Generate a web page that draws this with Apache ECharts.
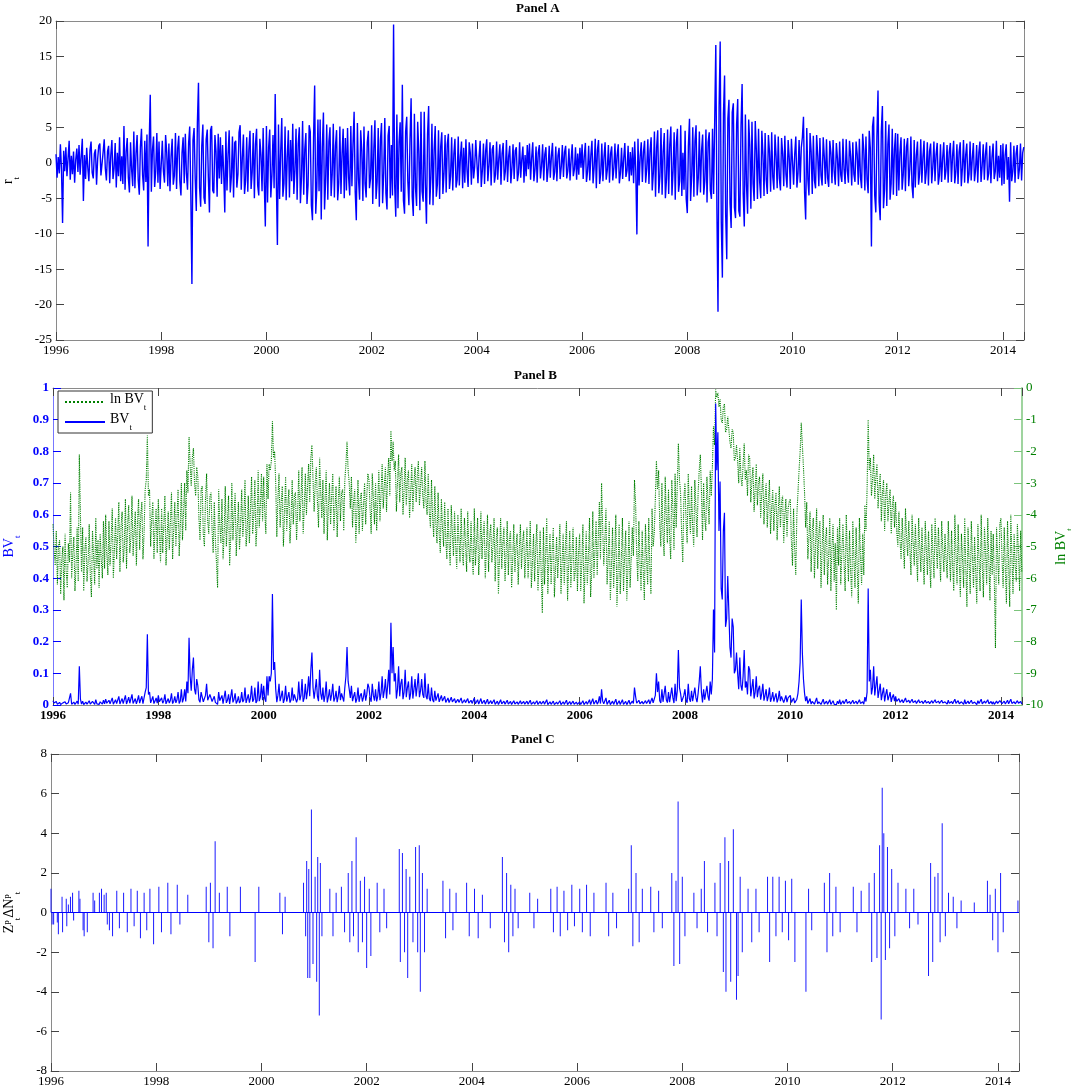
<!DOCTYPE html>
<html>
<head>
<meta charset="utf-8">
<script src="https://cdn.jsdelivr.net/npm/echarts@6/dist/echarts.min.js"></script>
<style>
  html, body { margin: 0; padding: 0; background: #fff; }
  #chart { width: 1071px; height: 1089px; }
</style>
</head>
<body>
<div id="chart"></div>
<script>
// sampled 48 times a year starting in Jan 1996
var T0 = 1996;
var STEP = 1 / 48;
var XMAX = 2014.4;
var yearTicks = [1996, 1998, 2000, 2002, 2004, 2006, 2008, 2010, 2012, 2014];

// Panel A : r_t
var ret = [
  1.2,-2.1,0.8,-1.5,2.6,-0.9,-8.5,1.7,-1.2,2.2,-1.9,0.6,3.1,-2.4,1.0,-1.6,1.6,-2.8,0.4,2.0,-1.3,2.5,-1.7,0.9, // 1996
  3.4,-5.4,1.1,-2.3,2.1,-0.7,-2.6,1.8,3.0,-1.4,-2.2,1.3,1.9,-3.1,0.5,2.4,2.7,-1.8,-2.0,1.5,3.3,-0.8,-2.5,1.6,
  2.4,-2.9,1.1,3.2,-2.3,-0.8,2.8,-3.5,1.4,-1.9,3.6,-2.6,0.9,-3.0,5.2,-3.8,1.6,3.5,-2.1,-4.2,2.9,-1.0,-3.3,4.4, // 1997
  -3.6,1.3,3.9,-2.4,-4.5,2.2,4.8,-1.7,-3.9,3.1,-2.7,4.0,-11.8,2.5,9.6,-4.1,1.8,3.7,-3.4,-1.2,4.2,-2.8,3.0,-3.7,
  -3.6,3.1,-1.2,-2.8,3.9,1.5,-3.3,2.7,-4.0,0.9,3.4,-3.1,-1.8,4.2,-3.7,2.0,3.8,-2.6,-4.6,1.4,3.6,-2.9,4.1,-1.5, // 1998
  -3.8,2.8,5.1,-4.4,-17.1,3.2,4.9,-2.2,-6.8,5.6,11.3,-3.5,-6.2,2.4,5.4,-4.9,-5.8,3.3,4.7,-2.0,-7.0,4.6,5.2,-3.9,
  -4.3,3.9,1.6,-4.8,4.1,-2.2,3.6,-3.0,2.5,-1.4,-7.0,4.4,-3.9,1.2,4.6,-4.2,-2.0,3.7,-4.9,2.8,3.1,-3.5,-1.6,4.3, // 1999
  5.3,-3.8,0.7,4.0,-4.4,-2.5,3.6,-4.1,1.9,4.5,-3.7,-1.3,4.2,-5.0,2.6,4.8,-3.2,-4.6,3.4,1.1,-4.0,4.9,-2.7,-9.0,
  5.2,-5.6,2.1,4.7,-4.9,-1.8,3.9,-3.6,9.7,-2.4,-11.6,5.4,-5.1,1.5,6.3,-4.8,-2.9,5.1,-5.3,0.8,4.6,-4.9,3.2,-2.6, // 2000
  5.5,-4.4,-1.1,4.8,-5.2,2.7,5.0,-5.7,-2.0,5.9,-4.5,1.9,4.2,-5.8,-3.1,5.3,4.4,-6.0,-8.1,3.6,10.9,-7.2,-3.4,6.1,
  -4.0,6.1,-8.0,2.2,7.1,-6.6,-2.5,5.4,-5.2,3.0,5.0,-4.7,-1.6,5.5,-4.9,2.4,4.6,-5.3,-2.8,5.1,-4.4,1.3,4.8,-5.0, // 2001
  3.5,-3.9,4.9,-2.1,-4.6,5.2,-3.3,2.7,7.2,-4.1,-8.1,5.6,-2.3,-5.2,4.6,1.7,-5.4,5.1,-3.0,-4.9,2.9,4.5,-3.6,-2.2,
  5.3,-5.8,2.0,6.0,-5.1,-2.7,4.9,-6.2,3.1,5.6,-5.7,-1.4,6.3,-4.3,-6.6,3.8,5.2,-5.0,2.5,-4.6,19.5,-3.2,-7.6,6.8, // 2002
  -6.4,2.9,5.7,-4.1,11.0,-5.3,-7.2,4.4,6.5,-2.6,-6.0,3.3,9.1,-4.8,-7.5,6.9,-3.5,-6.1,5.8,1.6,-6.7,7.2,-4.0,-5.5,
  7.2,-3.1,-8.6,4.0,8.0,-5.9,-2.2,5.5,-6.0,1.8,5.2,-4.8,-3.0,4.6,-5.1,2.3,4.3,-4.4,-1.5,3.9,-4.2,2.6,4.1,-3.7, // 2003
  -1.9,3.6,-3.9,1.2,3.4,-3.5,-2.4,3.7,-3.2,0.9,3.0,-3.6,2.1,-2.8,3.3,-1.0,-3.4,2.9,1.4,-3.1,2.7,-2.2,-0.6,3.2,
  3.2,-2.9,0.8,3.1,-3.4,-1.1,2.7,-3.0,1.6,3.3,-2.6,-0.4,2.9,-3.2,1.9,2.5,-2.8,-1.6,3.0,-2.4,0.6,2.6,-3.1,1.3, // 2004
  2.8,-2.5,-1.2,3.2,-2.7,0.9,2.4,-2.9,-0.7,2.6,-2.3,1.7,2.2,-2.6,-1.4,2.9,-2.1,0.5,2.3,-2.8,1.1,-1.9,2.5,-0.9,
  2.7,-2.4,0.7,2.9,-2.6,-1.0,2.3,-2.8,1.4,2.5,-2.2,-0.5,2.6,-2.5,1.2,2.2,-2.7,-0.8,2.4,-2.1,0.9,2.8,-2.4,-1.3, // 2005
  2.3,-2.6,1.0,2.1,-2.3,-0.6,2.5,-2.0,1.5,2.4,-2.2,-1.1,2.0,-2.5,0.4,2.6,-1.9,-0.9,2.2,-2.4,1.3,-1.7,2.1,-0.7,
  2.6,-2.3,0.9,2.8,-2.7,-1.2,2.4,-2.5,1.1,3.1,-2.9,-0.6,3.4,-3.6,1.8,3.2,-3.0,-1.5,2.7,-2.6,0.8,2.9,-2.4,-1.0, // 2006
  2.5,-2.8,1.3,2.3,-2.5,-0.7,2.7,-2.2,1.0,2.6,-2.9,-1.4,2.1,-2.3,0.6,2.8,-2.0,-1.1,2.4,-2.6,1.5,-1.8,2.2,-2.9,
  3.0,-1.2,-10.1,3.4,-3.2,0.9,2.9,-2.7,1.5,3.1,-2.8,-0.8,3.3,-3.0,1.7,3.6,-3.9,-1.4,4.4,-4.8,2.1,4.6,-4.3,-1.9, // 2007
  4.9,-4.5,1.6,4.2,-5.0,-2.3,4.7,-4.4,2.5,5.1,-4.6,-1.2,4.3,-5.2,2.8,4.8,-4.1,-2.6,5.3,-4.7,1.4,-3.8,4.5,-5.1,
  -7.1,2.4,6.2,-5.4,-1.8,5.0,-4.8,3.1,5.3,-4.6,-2.2,4.4,-4.2,1.7,4.0,-4.5,-2.5,4.7,-5.6,2.9,4.3,-3.9,-5.1,4.8, // 2008
  -4.4,6.0,16.6,-6.5,-21.0,7.8,17.1,-8.4,-16.2,6.9,12.3,-7.3,-13.6,6.2,8.9,-5.7,-9.2,7.1,8.4,-6.3,-7.8,5.4,9.0,-6.8,
  -7.6,5.2,11.1,-4.4,-9.0,6.8,-3.1,-7.2,6.1,2.5,-6.5,5.8,-2.9,-5.4,5.9,1.8,-5.1,4.8,-2.6,-5.0,4.5,1.2,-4.7,4.2, // 2009
  -2.4,-4.4,3.9,1.5,-4.1,4.3,-2.0,-3.8,4.0,0.9,-3.6,3.7,-2.2,-3.9,3.5,1.3,-3.3,3.8,-1.6,-3.5,3.2,0.7,-3.7,3.4,
  3.4,-3.1,1.2,3.7,-3.5,-1.5,3.2,-2.8,2.1,3.6,6.5,-4.2,-8.0,4.9,-2.3,-4.6,4.2,1.6,-4.4,3.8,-2.5,-3.6,3.9,1.0, // 2010
  -3.3,3.5,-1.8,-3.2,3.6,0.8,-3.0,3.3,-2.1,-3.4,3.1,1.4,-2.9,3.2,-1.2,-3.1,2.8,0.6,-3.3,3.0,-1.7,-2.7,3.4,-0.9,
  -3.0,3.3,-1.1,-2.8,3.1,0.9,-3.2,2.9,-1.6,-2.7,3.0,1.2,-3.1,3.4,-2.0,-3.6,4.1,1.8,-3.9,3.7,-2.4,-4.3,4.5,2.0, // 2011
  -11.8,5.1,6.5,-4.6,-7.0,3.8,10.2,-5.5,-8.1,4.4,8.0,-6.4,-3.7,5.9,-6.1,2.6,5.4,-5.2,-2.9,4.8,-4.5,1.9,4.2,-4.7,
  4.1,-3.9,1.4,3.6,-3.8,-1.7,3.4,-4.0,2.2,3.5,-3.3,-0.9,3.7,-3.2,-5.0,3.2,-3.5,1.1,3.0,-3.1,-1.5,3.3,-2.8,0.8, // 2012
  3.1,-3.0,-1.3,2.9,-3.2,1.6,2.7,-2.9,-0.6,3.0,-2.6,1.2,2.8,-3.1,-1.8,2.6,-2.7,0.7,2.9,-2.4,-1.1,2.5,-2.8,1.5,
  2.8,-2.7,0.9,3.1,-2.9,-1.3,2.6,-3.0,1.5,2.9,-3.3,-0.7,3.2,-2.8,1.1,2.7,-2.9,-1.6,3.0,-2.5,0.6,2.8,-2.6,-1.0, // 2013
  2.5,-2.8,1.4,3.0,-2.7,-0.5,2.6,-2.4,1.2,2.9,-2.5,-1.5,2.4,-2.9,0.8,2.7,-2.3,-1.2,3.1,-2.6,1.0,-2.1,2.5,-3.2,
  2.7,-3.0,1.1,2.6,-2.4,0.8,-5.5,2.9,-2.6,-1.2,2.4,-2.8,1.3,2.5,-2.3,-0.9,2.7,-2.5,1.4,2.2 // 2014
];

// Panel B : ln BV_t (BV_t is plotted as its exponential)
var lnBV = [
  -4.3,-5.1,-5.6,-4.5,-6.2,-5.0,-4.8,-6.5,-5.4,-5.0,-6.7,-4.6,-5.8,-6.3,-4.9,-5.5,-3.3,-6.0,-5.2,-4.7,-6.4,-5.6,-4.4,-6.1, // 1996
  -2.1,-4.0,-5.8,-4.4,-6.4,-5.1,-4.7,-6.1,-5.5,-4.3,-5.9,-6.6,-4.5,-5.3,-6.2,-4.1,-5.7,-4.8,-6.3,-4.6,-5.4,-6.0,-4.2,-5.7,
  -4.0,-5.2,-5.9,-4.2,-5.6,-4.8,-3.8,-6.0,-5.1,-4.1,-5.4,-4.6,-3.6,-5.8,-4.4,-3.9,-5.5,-5.0,-3.5,-5.7,-4.3,-3.7,-5.2,-4.7, // 1997
  -3.4,-5.3,-4.5,-3.9,-5.6,-4.2,-3.5,-5.1,-4.0,-3.6,-5.4,-4.6,-3.2,-2.9,-1.5,-3.4,-3.2,-5.0,-4.1,-3.6,-5.4,-4.4,-3.8,-5.2,
  -3.5,-4.6,-5.5,-3.8,-5.2,-4.3,-3.4,-5.6,-4.7,-3.9,-5.1,-4.2,-3.3,-5.4,-4.5,-3.6,-5.0,-4.1,-3.2,-5.3,-4.4,-3.0,-4.8,-3.9, // 1998
  -3.0,-4.5,-2.6,-3.3,-1.55,-2.4,-3.1,-2.2,-1.9,-3.0,-3.4,-2.5,-2.8,-4.1,-4.8,-3.2,-3.1,-4.6,-5.0,-3.5,-2.7,-4.2,-4.6,-3.4,
  -3.3,-4.5,-5.2,-3.6,-4.8,-5.5,-6.3,-3.2,-4.3,-4.9,-3.5,-5.4,-4.6,-3.1,-5.0,-4.2,-3.4,-5.6,-4.7,-3.0,-4.8,-4.0,-3.3,-5.3, // 1999
  -4.4,-3.6,-5.1,-4.3,-3.2,-4.7,-4.1,-2.9,-5.0,-4.5,-3.4,-4.9,-3.8,-2.8,-4.6,-4.0,-2.9,-5.0,-4.3,-2.6,-4.4,-3.7,-2.7,-4.2,
  -2.8,-3.9,-4.6,-2.4,-3.5,-2.4,-2.6,-2.3,-1.05,-2.2,-2.0,-3.0,-4.7,-3.5,-2.7,-4.4,-3.6,-3.1,-5.0,-4.0,-2.8,-4.5,-3.7,-3.2, // 2000
  -4.9,-4.1,-2.9,-4.3,-3.4,-3.3,-4.8,-3.9,-2.6,-4.2,-3.5,-2.5,-4.6,-3.8,-2.7,-4.0,-3.1,-2.4,-3.6,-2.2,-1.8,-2.9,-3.9,-3.0,
  -2.5,-3.6,-4.4,-2.2,-3.3,-4.1,-2.9,-4.6,-3.5,-2.6,-4.8,-3.7,-3.0,-4.3,-3.4,-2.7,-4.5,-3.8,-3.1,-4.7,-3.6,-2.8,-4.2,-3.3, // 2001
  -3.2,-4.5,-2.9,-2.4,-1.7,-2.6,-3.0,-3.8,-2.8,-4.4,-3.6,-3.2,-4.9,-3.9,-2.9,-4.6,-3.5,-3.3,-4.5,-3.7,-3.0,-4.3,-3.4,-2.7,
  -2.9,-3.8,-4.6,-2.7,-3.5,-4.3,-3.0,-4.5,-3.6,-2.6,-4.2,-3.3,-2.4,-3.8,-3.1,-2.5,-3.9,-2.8,-2.2,-3.4,-1.35,-2.3,-1.7,-2.6, // 2002
  -2.3,-3.9,-3.0,-2.1,-3.6,-2.7,-2.5,-4.0,-3.2,-2.2,-3.7,-2.9,-2.6,-4.1,-3.3,-2.4,-3.9,-3.0,-2.5,-3.6,-2.8,-2.3,-3.7,-3.1,
  -2.5,-3.4,-3.8,-2.3,-3.6,-4.0,-2.7,-3.9,-4.4,-2.9,-4.1,-4.7,-3.1,-4.3,-4.9,-3.3,-4.6,-5.2,-3.5,-4.4,-5.0,-3.6,-4.8,-5.4, // 2003
  -3.8,-4.9,-5.6,-3.7,-4.6,-5.3,-3.9,-5.0,-5.7,-4.0,-4.8,-5.5,-3.8,-5.2,-5.6,-4.1,-4.9,-5.8,-3.9,-5.1,-5.5,-4.2,-5.3,-5.9,
  -3.8,-5.6,-4.9,-4.1,-5.9,-5.2,-3.9,-5.4,-4.6,-4.2,-6.0,-5.1,-4.0,-5.8,-4.7,-4.3,-5.5,-5.0,-4.1,-6.1,-4.8,-4.4,-6.5,-5.3, // 2004
  -4.1,-5.7,-4.9,-4.4,-6.1,-5.2,-4.2,-5.9,-4.8,-4.5,-6.3,-5.4,-4.3,-5.8,-5.0,-4.6,-6.2,-5.1,-4.3,-5.7,-4.9,-4.5,-6.0,-5.3,
  -4.4,-6.0,-5.2,-4.2,-6.3,-5.5,-4.6,-6.1,-5.0,-4.3,-6.4,-5.6,-4.5,-5.9,-7.1,-4.4,-6.2,-5.3,-4.1,-6.5,-5.4,-4.6,-6.2,-5.1, // 2005
  -4.4,-6.6,-5.7,-4.7,-6.0,-5.2,-4.3,-6.5,-5.5,-4.6,-6.2,-5.0,-4.2,-6.7,-5.6,-4.5,-6.3,-5.3,-4.4,-6.1,-5.8,-4.7,-6.4,-5.2,
  -4.6,-6.4,-5.5,-4.3,-6.8,-5.7,-4.5,-6.2,-5.3,-4.1,-6.6,-5.8,-3.9,-6.0,-5.1,-4.2,-5.9,-4.7,-3.6,-5.4,-3.0,-4.4,-5.6,-4.8, // 2006
  -3.8,-6.2,-5.4,-4.2,-6.7,-5.6,-4.4,-6.3,-5.2,-4.0,-6.9,-5.8,-4.3,-6.5,-5.5,-4.1,-6.4,-5.3,-4.5,-6.7,-5.7,-4.2,-6.3,-5.4,
  -4.4,-5.3,-2.9,-3.6,-5.2,-6.1,-4.2,-5.5,-6.4,-4.5,-5.8,-6.7,-4.3,-5.4,-6.2,-4.1,-5.7,-6.5,-3.8,-5.0,-4.6,-3.5,-2.3,-3.2, // 2007
  -2.6,-4.3,-5.0,-3.0,-4.6,-5.3,-2.8,-4.1,-4.9,-3.2,-4.7,-5.4,-2.9,-3.8,-5.1,-2.7,-4.4,-3.1,-1.75,-2.9,-3.3,-4.6,-5.5,-3.5,
  -3.0,-4.2,-4.9,-2.7,-3.9,-4.6,-3.1,-4.4,-5.0,-2.9,-3.8,-4.7,-3.3,-2.6,-2.1,-3.2,-4.8,-3.0,-4.1,-4.5,-2.8,-3.6,-4.3,-2.6, // 2008
  -3.4,-2.5,-1.2,-1.8,-0.05,-0.3,-0.15,-0.6,-0.35,-1.0,-1.1,-0.6,-0.5,-1.4,-1.3,-0.9,-0.9,-1.7,-1.9,-1.3,-1.4,-2.3,-2.2,-1.8,
  -2.3,-3.0,-1.9,-2.8,-3.1,-2.4,-1.75,-2.9,-2.6,-3.4,-2.1,-2.2,-3.6,-2.9,-2.5,-3.9,-3.2,-2.4,-3.7,-3.0,-2.8,-4.1,-3.3,-2.7, // 2009
  -4.3,-3.5,-3.0,-4.4,-3.6,-2.9,-4.6,-3.8,-3.2,-4.5,-3.7,-3.3,-4.8,-3.9,-3.1,-4.4,-3.6,-3.4,-4.9,-4.0,-3.5,-4.7,-3.8,-3.6,
  -3.5,-4.8,-5.6,-3.8,-5.1,-5.9,-4.0,-3.3,-2.6,-2.0,-1.1,-1.8,-2.5,-3.3,-4.4,-3.6,-5.4,-4.7,-3.9,-5.8,-4.5,-4.1,-6.0,-5.0, // 2010
  -3.8,-5.7,-4.6,-4.2,-6.3,-5.1,-4.0,-5.9,-4.8,-4.4,-6.2,-5.3,-4.1,-6.4,-5.0,-4.3,-6.1,-4.9,-7.0,-4.4,-5.6,-4.1,-6.2,-5.2,
  -4.3,-5.5,-6.4,-4.0,-5.2,-6.1,-4.5,-5.8,-6.6,-4.2,-5.4,-6.3,-4.4,-5.7,-6.8,-4.1,-5.3,-6.2,-4.6,-5.9,-3.7,-4.5,-3.2,-1.0, // 2011
  -2.6,-2.2,-3.4,-2.9,-2.1,-3.5,-2.8,-2.4,-3.8,-3.1,-2.7,-4.2,-3.3,-2.9,-4.5,-3.4,-3.0,-4.2,-3.6,-3.2,-4.6,-3.7,-3.4,-4.4,
  -3.6,-4.5,-5.0,-3.9,-4.8,-5.4,-4.1,-5.0,-5.7,-3.8,-4.7,-5.3,-4.2,-5.1,-5.9,-4.0,-4.9,-5.6,-4.3,-5.3,-6.1,-4.1,-5.0,-5.8, // 2012
  -4.4,-5.4,-6.2,-4.2,-5.1,-5.9,-4.5,-5.5,-6.3,-4.3,-5.2,-6.0,-4.1,-5.0,-5.7,-4.4,-5.3,-6.1,-4.2,-5.1,-5.8,-4.6,-5.4,-6.0,
  -4.2,-5.3,-6.1,-4.5,-5.6,-6.4,-4.0,-5.2,-6.2,-4.3,-5.5,-6.6,-4.6,-5.4,-6.3,-4.1,-5.7,-6.9,-4.4,-5.5,-6.5,-4.2,-5.3,-6.3, // 2013
  -4.7,-5.8,-6.8,-4.3,-5.4,-6.4,-4.0,-5.6,-6.6,-4.4,-5.2,-6.2,-4.1,-5.5,-6.7,-4.5,-5.9,-4.6,-6.1,-8.2,-4.4,-5.3,-6.2,-4.3,
  -4.1,-5.4,-6.3,-4.4,-5.7,-6.8,-4.2,-5.5,-6.9,-4.0,-5.3,-6.5,-4.6,-5.6,-6.1,-4.3,-5.2,-6.4,-4.5,-5.8 // 2014
];

// Panel C : jump component [year, size]
var jumps = [
  [1996.00,1.2],[1996.02,-0.6],[1996.05,-0.6],[1996.12,-0.5],[1996.14,-1.1],[1996.21,0.8],[1996.22,-1.0],[1996.29,0.7],
  [1996.30,-0.7],[1996.33,0.4],[1996.37,0.8],[1996.41,1.0],[1996.43,-0.4],[1996.53,1.1],[1996.55,0.7],[1996.61,-0.9],
  [1996.63,-1.2],[1996.69,-1.0],[1996.80,1.0],[1996.83,0.6],[1996.92,1.0],[1996.96,1.2],[1997.01,0.9],[1997.05,1.0],
  [1997.07,-0.6],[1997.11,-0.9],[1997.17,-1.2],[1997.25,1.1],[1997.30,-0.8],[1997.38,1.0],[1997.45,-1.0],[1997.52,1.2],
  [1997.58,-0.7],[1997.64,1.1],[1997.70,-1.3],[1997.77,1.0],[1997.82,-0.9],[1997.88,1.2],[1997.95,-1.6],
  [1998.05,1.3],[1998.10,-1.0],[1998.22,1.5],[1998.28,-1.1],[1998.40,1.4],[1998.45,-0.6],[1998.60,0.9],
  [1998.95,1.3],[1999.00,-1.5],[1999.03,1.5],[1999.08,-1.8],[1999.12,3.6],[1999.20,1.0],[1999.35,1.3],[1999.40,-1.2],
  [1999.60,1.3],[1999.88,-2.5],[1999.95,1.3],[2000.35,1.0],[2000.40,-1.1],[2000.45,0.8],
  [2000.80,1.5],[2000.84,-1.2],[2000.86,2.6],[2000.88,-3.3],[2000.90,2.2],[2000.92,-3.3],[2000.95,5.2],[2000.98,-2.6],
  [2001.02,1.8],[2001.05,-3.5],[2001.07,2.8],[2001.10,-5.2],[2001.12,2.5],[2001.15,-1.2],
  [2001.30,1.2],[2001.36,-1.2],[2001.42,1.0],[2001.52,1.3],[2001.58,-1.0],
  [2001.65,2.0],[2001.68,-1.5],[2001.72,2.6],[2001.75,-1.2],[2001.80,3.8],[2001.84,-2.0],[2001.88,1.6],[2001.92,-1.5],
  [2001.96,1.8],[2002.00,-2.8],[2002.05,1.2],[2002.08,-2.2],[2002.20,1.5],[2002.25,-1.0],[2002.33,1.2],[2002.38,-0.8],
  [2002.62,3.2],[2002.64,-2.5],[2002.68,3.0],[2002.72,-2.0],[2002.75,2.2],[2002.78,-3.3],[2002.82,1.8],[2002.88,-1.5],
  [2002.93,3.3],[2002.97,-2.0],[2003.00,3.4],[2003.02,-4.0],[2003.06,2.0],[2003.10,-2.0],[2003.15,1.2],
  [2003.45,1.6],[2003.50,-1.3],[2003.58,1.2],[2003.64,-0.9],[2003.70,1.0],
  [2003.90,1.5],[2003.95,-1.2],[2004.05,1.2],[2004.12,-1.3],[2004.20,0.9],[2004.35,-0.8],
  [2004.58,2.8],[2004.62,-1.5],[2004.66,2.0],[2004.70,-2.0],[2004.74,1.4],[2004.78,-1.2],[2004.82,1.2],[2004.88,-0.8],
  [2005.10,1.0],[2005.18,-0.8],[2005.25,0.7],
  [2005.50,1.2],[2005.55,-1.0],[2005.62,1.3],[2005.68,-1.2],[2005.75,1.1],[2005.82,-0.9],[2005.90,1.4],[2005.95,-0.7],
  [2006.05,1.2],[2006.10,-1.0],[2006.18,1.4],[2006.25,-1.2],[2006.32,1.0],
  [2006.55,1.5],[2006.60,-1.2],[2006.68,1.0],[2006.75,-0.8],
  [2006.98,1.2],[2007.03,3.4],[2007.06,-1.7],[2007.12,2.0],[2007.18,-1.5],[2007.24,1.2],
  [2007.40,1.3],[2007.46,-1.0],[2007.55,1.1],[2007.62,-0.8],
  [2007.80,2.0],[2007.84,-2.7],[2007.88,1.6],[2007.92,5.6],[2007.95,-2.6],[2008.00,1.8],[2008.05,-1.2],
  [2008.22,1.0],[2008.28,-0.8],[2008.36,1.2],[2008.42,2.6],[2008.48,-1.0],
  [2008.62,1.5],[2008.66,-1.2],[2008.72,2.5],[2008.78,-3.0],[2008.81,3.8],[2008.83,-4.0],[2008.88,2.6],[2008.92,-3.5],
  [2008.97,4.2],[2009.03,-4.4],[2009.06,-3.2],[2009.10,1.8],[2009.14,-2.0],
  [2009.25,1.2],[2009.32,-1.5],[2009.40,1.2],[2009.46,-1.0],
  [2009.62,1.8],[2009.66,-2.5],[2009.72,1.8],[2009.78,-1.2],[2009.84,1.8],[2009.90,-1.0],[2009.96,1.6],[2010.02,-1.4],
  [2010.08,1.7],[2010.14,-2.5],[2010.35,-4.0],[2010.40,1.2],[2010.46,-0.9],
  [2010.70,1.5],[2010.75,-2.0],[2010.80,2.0],[2010.86,-1.2],[2010.92,1.3],[2011.00,-1.0],
  [2011.25,1.3],[2011.32,-1.0],[2011.40,1.1],
  [2011.55,1.5],[2011.60,-2.5],[2011.65,2.0],[2011.70,-2.3],[2011.75,3.4],[2011.78,-5.4],[2011.80,6.3],[2011.83,4.0],
  [2011.86,-2.4],[2011.90,3.3],[2011.94,-1.8],[2011.98,2.2],[2012.04,-1.2],[2012.10,1.5],
  [2012.25,1.2],[2012.32,-0.8],[2012.40,1.2],[2012.48,-0.6],
  [2012.68,-3.2],[2012.72,2.5],[2012.76,-2.5],[2012.80,1.8],[2012.86,2.0],[2012.90,-1.5],[2012.94,4.5],[2013.00,-1.2],
  [2013.06,1.0],[2013.15,0.8],[2013.22,-0.8],[2013.30,0.6],[2013.55,0.5],
  [2013.80,1.6],[2013.85,0.9],[2013.90,-1.4],[2013.95,1.2],[2014.00,-2.0],[2014.05,2.0],[2014.10,-1.0],[2014.38,0.6]
];

var serif = '"Liberation Serif", "DejaVu Serif", serif';
var rich = {
  m: { fontFamily: serif, fontSize: 14, lineHeight: 20, verticalAlign: 'top' },
  s: { fontFamily: serif, fontSize: 9, lineHeight: 9, verticalAlign: 'bottom' },
  p: { fontFamily: serif, fontSize: 9, lineHeight: 9, verticalAlign: 'top' }
};

function timed(arr) {
  return arr.map(function (v, i) { return [T0 + i * STEP, v]; });
}

function xAx(grid, pos, labels, bold) {
  return {
    type: 'value', gridIndex: grid, position: pos,
    min: 1996, max: XMAX, interval: 2,
    axisLine: { onZero: false, lineStyle: { color: '#8a8a8a' } },
    axisTick: { inside: true, length: 8, lineStyle: { color: '#444' } },
    axisLabel: {
      show: labels, margin: 4, color: '#000', fontFamily: serif, fontSize: 13,
      fontWeight: bold ? 'bold' : 'normal',
      formatter: function (v) { return yearTicks.indexOf(v) >= 0 ? String(v) : ''; }
    },
    splitLine: { show: false }
  };
}

function yAx(grid, pos, min, max, step, extra) {
  var a = {
    type: 'value', gridIndex: grid, position: pos, min: min, max: max, interval: step,
    axisLine: { show: true, onZero: false, lineStyle: { color: '#8a8a8a' } },
    axisTick: { show: true, inside: true, length: 8, lineStyle: { color: '#444' } },
    axisLabel: { show: false, margin: 4, color: '#000', fontFamily: serif, fontSize: 13 },
    splitLine: { show: false }
  };
  for (var k in extra) a[k] = extra[k];
  return a;
}

var lineA = timed(ret);
var lineLn = timed(lnBV);
var lineBV = lnBV.map(function (v, i) { return [T0 + i * STEP, Math.exp(v)]; });

var titleStyle = { fontFamily: serif, fontSize: 13, fontWeight: 'bold', color: '#000' };

var option = {
  animation: false,
  backgroundColor: '#fff',
  title: [
    { text: 'Panel A', left: 516, top: 2, padding: 0, textStyle: titleStyle },
    { text: 'Panel B', left: 514, top: 369, padding: 0, textStyle: titleStyle },
    { text: 'Panel C', left: 511, top: 733, padding: 0, textStyle: titleStyle }
  ],
  grid: [
    { left: 56, right: 47, top: 21, height: 319, containLabel: false, outerBoundsMode: 'none' },
    { left: 53, right: 49, top: 388, height: 317, containLabel: false, outerBoundsMode: 'none' },
    { left: 51, right: 52, top: 754, height: 317, containLabel: false, outerBoundsMode: 'none' }
  ],
  legend: {
    left: 58, top: 391, orient: 'vertical',
    backgroundColor: '#fff', borderColor: '#333', borderWidth: 1, borderRadius: 0,
    padding: [1, 6, 1, 6], itemGap: 0, itemWidth: 40, itemHeight: 12,
    itemStyle: { opacity: 0 },
    data: ['lnBV', 'BV'],
    textStyle: { color: '#000', rich: rich },
    formatter: function (n) { return n === 'lnBV' ? '{m|ln BV}{s|t}' : '{m|BV}{s|t}'; }
  },
  xAxis: [
    xAx(0, 'bottom', true, false), xAx(0, 'top', false, false),
    xAx(1, 'bottom', true, true), xAx(1, 'top', false, false),
    xAx(2, 'bottom', true, false), xAx(2, 'top', false, false)
  ],
  yAxis: [
    yAx(0, 'left', -25, 20, 5, {
      axisLabel: { show: true, margin: 4, color: '#000', fontFamily: serif, fontSize: 13 },
      name: '{m|r}{s|t}', nameLocation: 'middle', nameRotate: 90, nameGap: 35,
      nameTextStyle: { color: '#000', rich: rich }
    }),
    yAx(0, 'right', -25, 20, 5, {}),
    yAx(1, 'left', 0, 1, 0.1, {
      axisLine: { show: true, onZero: false, lineStyle: { color: '#7777ff' } },
      axisTick: { show: true, inside: true, length: 8, lineStyle: { color: '#0000ff' } },
      axisLabel: { show: true, margin: 4, color: '#0000ff', fontFamily: serif, fontSize: 13, fontWeight: 'bold' },
      name: '{m|BV}{s|t}', nameLocation: 'middle', nameRotate: 90, nameGap: 31,
      nameTextStyle: { color: '#0000ff', rich: rich }
    }),
    yAx(1, 'right', -10, 0, 1, {
      axisLine: { show: true, onZero: false, lineStyle: { color: '#9fd49f', width: 2 } },
      axisTick: { show: true, inside: true, length: 8, lineStyle: { color: '#7cc47c' } },
      axisLabel: { show: true, margin: 4, color: '#008000', fontFamily: serif, fontSize: 13 },
      name: '{m|ln BV}{s|t}', nameLocation: 'middle', nameRotate: 90, nameGap: 24,
      nameTextStyle: { color: '#008000', rich: rich }
    }),
    yAx(2, 'left', -8, 8, 2, {
      axisLabel: { show: true, margin: 4, color: '#000', fontFamily: serif, fontSize: 13 },
      name: '{m|Z}{p|p}{s|t}{m|ΔN}{p|p}{s|t}', nameLocation: 'middle', nameRotate: 90, nameGap: 29,
      nameTextStyle: { color: '#000', rich: rich }
    }),
    yAx(2, 'right', -8, 8, 2, {})
  ],
  series: [
    {
      name: 'r', type: 'line', xAxisIndex: 0, yAxisIndex: 0, data: lineA,
      symbol: 'none', lineStyle: { color: '#0000ff', width: 1.4 }, silent: true
    },
    {
      name: 'lnBV', type: 'line', xAxisIndex: 2, yAxisIndex: 3, data: lineLn,
      symbol: 'none', itemStyle: { color: '#008000' },
      lineStyle: { color: '#008000', width: 1.1, type: 'dotted' }, silent: true
    },
    {
      name: 'BV', type: 'line', xAxisIndex: 2, yAxisIndex: 2, data: lineBV,
      symbol: 'none', itemStyle: { color: '#0000ff' },
      lineStyle: { color: '#0000ff', width: 1.2 }, silent: true
    },
    {
      name: 'jump', type: 'bar', xAxisIndex: 4, yAxisIndex: 4, data: jumps,
      barWidth: 1, itemStyle: { color: '#1a1aff' }, silent: true,
      markLine: {
        silent: true, symbol: ['none', 'none'], label: { show: false },
        lineStyle: { color: '#0000ff', width: 1, type: 'solid' },
        data: [{ yAxis: 0 }]
      }
    }
  ]
};

var myChart = echarts.init(document.getElementById('chart'));
myChart.setOption(option);
</script>
</body>
</html>
